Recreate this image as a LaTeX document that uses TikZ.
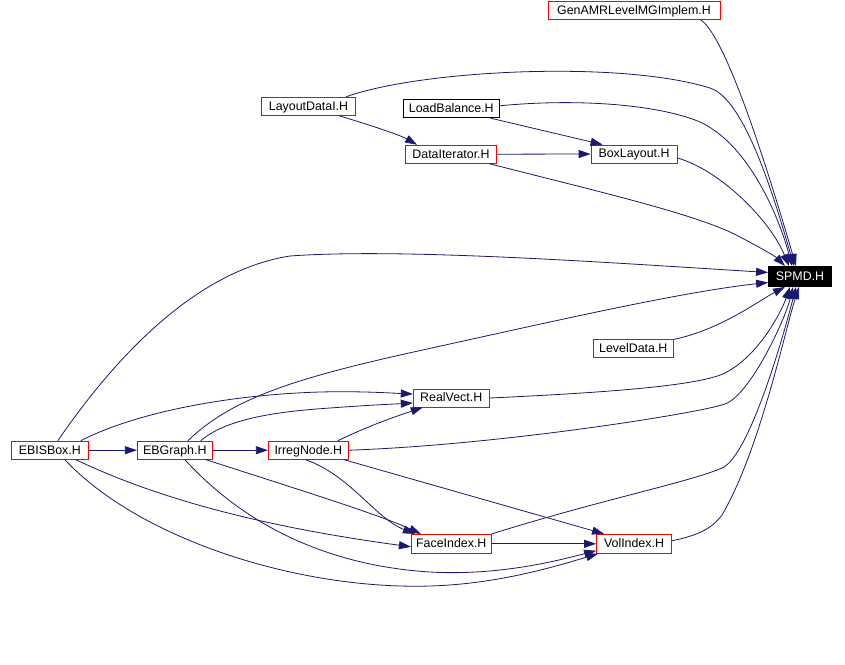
\documentclass[tikz,border=0pt]{standalone}
\usepackage{fontspec}
\setmainfont{Liberation Sans}
\usetikzlibrary{arrows.meta}
\definecolor{edgec}{RGB}{25,25,112}
\begin{document}
\begin{tikzpicture}[x=1pt,y=-1pt,
  box/.style={draw=red, line width=0.8pt, minimum height=18pt, inner sep=0pt,
    text height=9.6pt, text depth=1.8pt,
    font=\fontsize{12.4}{14}\selectfont, anchor=center},
  edge/.style={draw=edgec, line width=0.8pt, -{Triangle[length=12pt,width=8pt]}}]
\useasboundingbox (0,0) rectangle (845,664);
% nodes
\node[box, minimum width=172pt, minimum height=17.5pt] (gen) at (634,10.5) {GenAMRLevelMGImplem.H};
\node[box, minimum width=94pt] (layout) at (308.5,106.3) {LayoutDataI.H};
\node[box, draw=black, minimum width=96pt] (load) at (451.3,108.8) {LoadBalance.H};
\node[box, minimum width=91pt] (dataiter) at (451,154.2) {DataIterator.H};
\node[box, minimum width=86pt] (boxlayout) at (634,154) {BoxLayout.H};
\node[box, draw=black, fill=black, text=white, minimum width=63pt, minimum height=20pt] (spmd) at (800,276.5) {SPMD.H};
\node[box, minimum width=80pt] (leveldata) at (633.3,348.8) {LevelData.H};
\node[box, minimum width=76pt] (realvect) at (451.2,398) {RealVect.H};
\node[box, minimum width=77pt] (ebisbox) at (49.8,450.2) {EBISBox.H};
\node[box, minimum width=75pt] (ebgraph) at (174.8,450.2) {EBGraph.H};
\node[box, minimum width=80pt] (irreg) at (308.3,450.2) {IrregNode.H};
\node[box, minimum width=80pt, minimum height=19pt] (face) at (451.3,543.8) {FaceIndex.H};
\node[box, minimum width=75pt, minimum height=19pt] (vol) at (634,543.8) {VolIndex.H};
% edges into SPMD from above
\draw[edge] ([xshift=-20pt]gen.south east) .. controls (725,35) and (765,160) .. ([xshift=-4pt]spmd.north);
\draw[edge] ([xshift=-10pt]layout.north east) .. controls (420,70) and (620,60) .. (710,88) .. controls (745,99) and (775,200) .. ([xshift=-6pt]spmd.north);
\draw[edge] ([yshift=3pt]load.east) .. controls (580,98) and (660,105) .. (700,122) .. controls (750,145) and (780,220) .. ([xshift=-8pt]spmd.north);
\draw[edge] ([yshift=-4pt]boxlayout.east) .. controls (720,170) and (770,220) .. ([xshift=-11pt]spmd.north);
\draw[edge] ([xshift=-8pt]dataiter.south east) .. controls (600,192) and (700,215) .. (740,237) .. controls (765,250) and (776,257) .. ([xshift=-15pt]spmd.north);
% top cluster
\draw[edge] ([xshift=-17pt]layout.south east) .. controls (370,125) and (400,135) .. ([xshift=12pt]dataiter.north west);
\draw[edge] ([xshift=-9pt]load.south east) -- ([xshift=12pt]boxlayout.north west);
\draw[edge] (dataiter.east) -- (boxlayout.west);
% edges into SPMD from left / below
\draw[edge] ([xshift=8pt]ebisbox.north) .. controls (120,350) and (200,270) .. (290,256) .. controls (400,248) and (600,262) .. ([yshift=4pt]spmd.west);
\draw[edge] ([xshift=13pt]ebgraph.north) .. controls (230,400) and (290,380) .. (400,355) .. controls (550,322) and (680,292) .. ([yshift=-6pt]spmd.west);
\draw[edge] (leveldata.north east) .. controls (720,330) and (760,300) .. ([xshift=-15pt]spmd.south);
\draw[edge] (realvect.east) .. controls (620,392) and (700,385) .. (725,373) .. controls (760,355) and (782,310) .. ([xshift=-10pt]spmd.south);
\draw[edge] (irreg.east) .. controls (500,445) and (700,413) .. (725,404) .. controls (750,395) and (785,320) .. ([xshift=-7pt]spmd.south);
\draw[edge] (face.north east) .. controls (600,500) and (690,482) .. (722,468) .. controls (750,456) and (785,330) .. ([xshift=-4pt]spmd.south);
\draw[edge] ([yshift=3pt]vol.east) .. controls (700,535) and (712,528) .. (722,515) .. controls (760,450) and (785,330) .. ([xshift=-1pt]spmd.south);
% lower cluster
\draw[edge] (ebisbox.east) -- (ebgraph.west);
\draw[edge] (ebgraph.east) -- (irreg.west);
\draw[edge] ([xshift=-8pt]ebisbox.north east) .. controls (130,415) and (220,395) .. (320,392) .. controls (360,391) and (390,393) .. ([yshift=4pt]realvect.west);
\draw[edge] ([xshift=-12pt]ebgraph.north east) .. controls (225,420) and (270,412) .. (330,408) .. controls (370,405) and (395,404) .. ([yshift=-5pt]realvect.west);
\draw[edge] ([xshift=-11pt]irreg.north east) .. controls (370,425) and (400,415) .. ([xshift=10pt]realvect.south west);
\draw[edge] ([xshift=-13pt]ebisbox.south east) .. controls (150,495) and (250,525) .. ([yshift=-3pt]face.west);
\draw[edge] ([xshift=15pt]ebisbox.south) .. controls (140,540) and (300,590) .. (430,586) .. controls (500,584) and (560,565) .. ([xshift=2pt]vol.south west);
\draw[edge] ([xshift=10pt]ebgraph.south) .. controls (240,520) and (320,565) .. (430,572) .. controls (500,576) and (560,560) .. ([yshift=3pt]vol.south west);
\draw[edge] ([xshift=-7pt]ebgraph.south east) .. controls (300,490) and (380,515) .. ([xshift=10pt]face.north west);
\draw[edge] ([xshift=-3pt]irreg.south) .. controls (350,475) and (375,518) .. ([xshift=4pt]face.north west);
\draw[edge] ([xshift=-5pt]irreg.south east) -- ([xshift=8pt]vol.north west);
\draw[edge] (face.east) -- (vol.west);
\end{tikzpicture}
\end{document}
